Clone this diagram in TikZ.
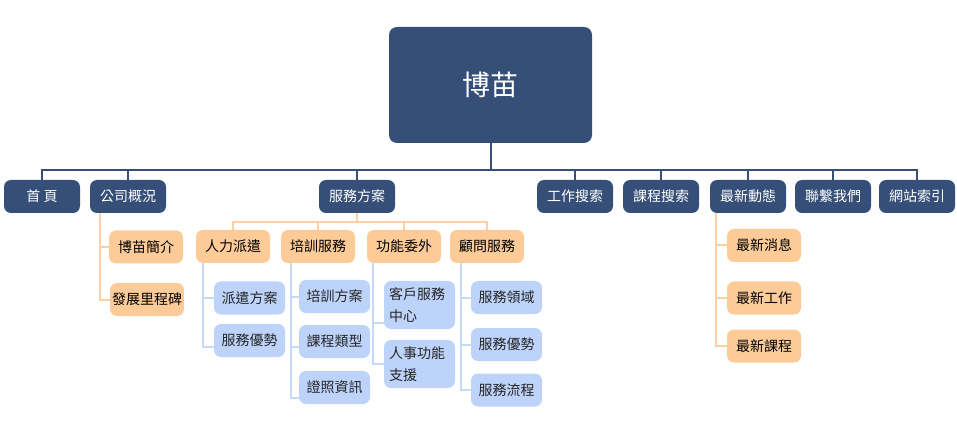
\documentclass[tikz,border=0pt]{standalone}
\usepackage{fontspec}
\setmainfont{Noto Sans CJK TC}
\definecolor{navy}{RGB}{54,79,120}
\definecolor{orfill}{RGB}{252,203,152}
\definecolor{orline}{RGB}{252,208,165}
\definecolor{blfill}{RGB}{189,211,250}
\definecolor{blline}{RGB}{197,217,250}
\tikzset{
  base/.style={rounded corners=7pt, inner sep=0pt, font=\fontsize{14}{17}\selectfont},
  darkbox/.style={base, fill=navy, text=white, minimum width=76pt, minimum height=33pt},
  orbox/.style={base, fill=orfill, text=black, minimum width=74pt, minimum height=33pt},
  blbox/.style={base, fill=blfill, text=black!85, minimum width=71pt, minimum height=33pt},
  bltwo/.style={blbox, minimum height=48pt, align=left, text width=61pt, font=\fontsize{14}{22}\selectfont},
  navyline/.style={draw=navy, line width=2pt},
  orangeline/.style={draw=orline, line width=2pt},
  blueline/.style={draw=blline, line width=2pt},
}
\begin{document}
\begin{tikzpicture}[x=1pt,y=-1pt]
\useasboundingbox (0,0) rectangle (957,443);
% root
\node[base, fill=navy, text=white, rounded corners=8pt, minimum width=203pt, minimum height=116pt, font=\fontsize{28}{32}\selectfont] (root) at (490.5,85) {博苗};
% first row
\node[darkbox] (home) at (42,196.5) {首 頁};
\node[darkbox] (company) at (128,196.5) {公司概況};
\node[darkbox] (service) at (357,196.5) {服務方案};
\node[darkbox] (jobs) at (575,196.5) {工作搜索};
\node[darkbox] (courses) at (661,196.5) {課程搜索};
\node[darkbox] (news) at (748,196.5) {最新動態};
\node[darkbox] (contact) at (833,196.5) {聯繫我們};
\node[darkbox] (sitemap) at (917,196.5) {網站索引};
\foreach \n in {home,company,service,jobs,courses,news,contact,sitemap}
  \draw[navyline] (root.south) -- ++(0,27) -| (\n.north);
% company children
\node[orbox] (intro) at (146,247) {博苗簡介};
\node[orbox] (milestone) at (147,299.5) {發展里程碑};
\draw[orangeline] ([xshift=10pt]company.south west) |- (intro.west);
\draw[orangeline] ([xshift=10pt]company.south west) |- (milestone.west);
% service children
\node[orbox] (dispatch) at (233,246.5) {人力派遣};
\node[orbox] (training) at (318,246.5) {培訓服務};
\node[orbox] (outsrc) at (404,246.5) {功能委外};
\node[orbox] (consult) at (487,246.5) {顧問服務};
\foreach \n in {dispatch,training,outsrc,consult}
  \draw[orangeline] (service.south) -- ++(0,9) -| (\n.north);
% dispatch children
\node[blbox] (dplan) at (249.5,298) {派遣方案};
\node[blbox] (dadv) at (249.5,340.5) {服務優勢};
\draw[blueline] ([xshift=7pt]dispatch.south west) |- (dplan.west);
\draw[blueline] ([xshift=7pt]dispatch.south west) |- ([yshift=-6pt]dadv.west);
% training children
\node[blbox] (tplan) at (334.5,296.5) {培訓方案};
\node[blbox] (ttype) at (334.5,341.5) {課程類型};
\node[blbox] (tcert) at (334.5,387.5) {證照資訊};
\draw[blueline] ([xshift=10pt]training.south west) |- (tplan.west);
\draw[blueline] ([xshift=10pt]training.south west) |- ([yshift=-5pt]ttype.west);
\draw[blueline] ([xshift=10pt]training.south west) |- ([yshift=-10pt]tcert.west);
% outsource children
\node[bltwo] (cscenter) at (419.5,305) {客戶服務\\中心};
\node[bltwo] (hrsupport) at (419.5,364) {人事功能\\支援};
\draw[blueline] ([xshift=6pt]outsrc.south west) |- ([yshift=-18pt]cscenter.west);
\draw[blueline] ([xshift=6pt]outsrc.south west) |- (hrsupport.west);
% consult children
\node[blbox] (cfield) at (506.5,297.5) {服務領域};
\node[blbox] (cadv) at (506.5,344.5) {服務優勢};
\node[blbox] (cflow) at (506.5,390) {服務流程};
\draw[blueline] ([xshift=11pt]consult.south west) |- (cfield.west);
\draw[blueline] ([xshift=11pt]consult.south west) |- (cadv.west);
\draw[blueline] ([xshift=11pt]consult.south west) |- (cflow.west);
% news children
\node[orbox] (nmsg) at (764,245.5) {最新消息};
\node[orbox] (njob) at (764,298) {最新工作};
\node[orbox] (ncourse) at (764,346) {最新課程};
\draw[orangeline] ([xshift=6pt]news.south west) |- (nmsg.west);
\draw[orangeline] ([xshift=6pt]news.south west) |- (njob.west);
\draw[orangeline] ([xshift=6pt]news.south west) |- (ncourse.west);
\end{tikzpicture}
\end{document}
